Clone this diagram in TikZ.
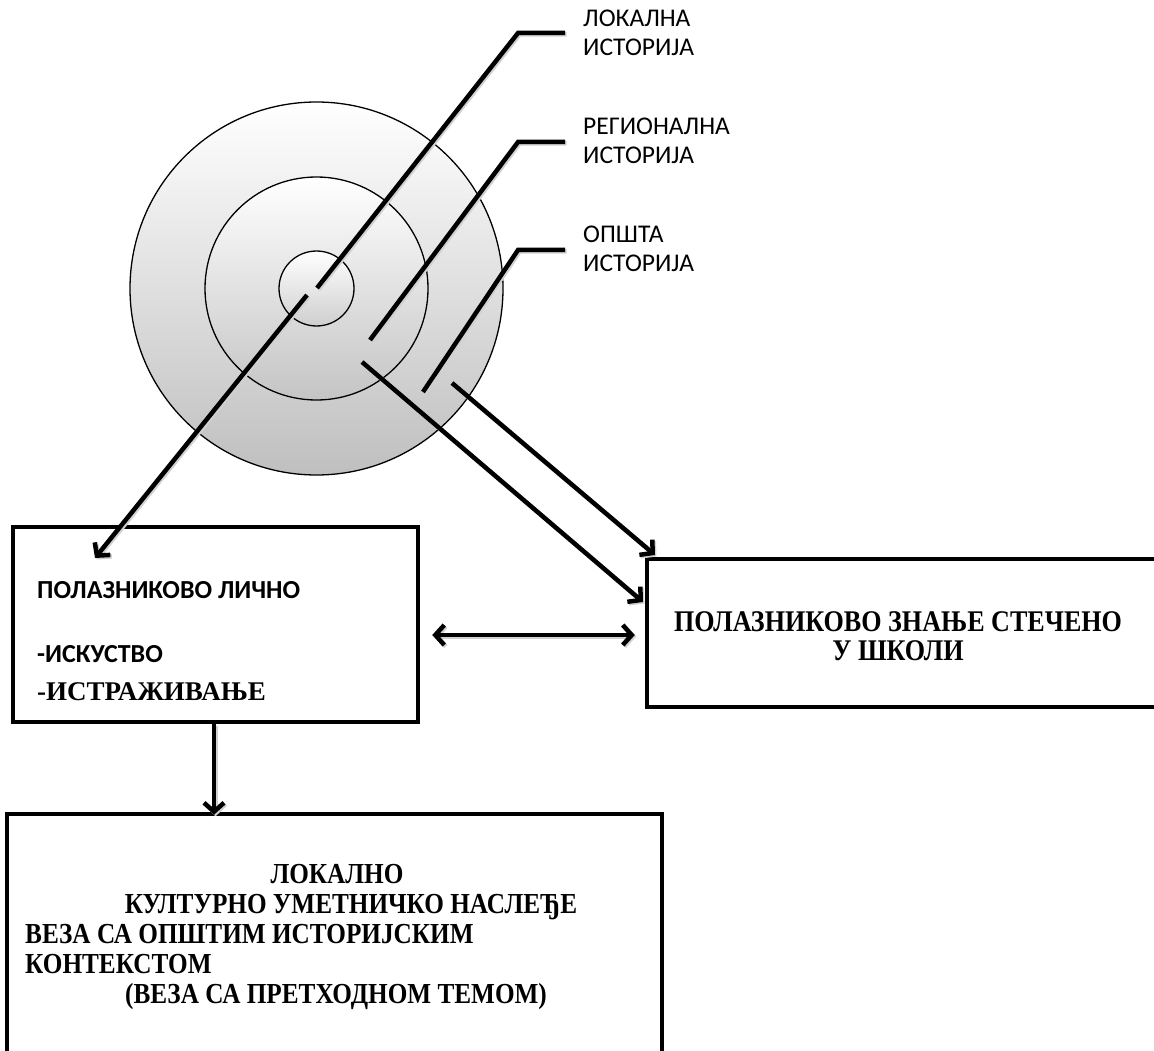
\documentclass[tikz,border=0pt]{standalone}
\usepackage{fontspec}
\setmainfont{Liberation Serif}
\newfontfamily\calfont{Carlito}
\newfontfamily\tnrcond[FakeStretch=0.87]{Liberation Serif}
\usetikzlibrary{arrows.meta}
\begin{document}
\begin{tikzpicture}[x=1pt,y=-1pt,
  ring/.style={circle, draw=black, line width=1.3pt, inner sep=0pt, shading=axis, top color=white},
  heavy/.style={line width=4.5pt, line cap=butt,
    preaction={draw=black!18, line width=4.5pt, transform canvas={xshift=1.5pt,yshift=-1.5pt}}},
  arr/.style={heavy, -{Straight Barb[length=9pt,width=20pt]}},
  darr/.style={heavy, {Straight Barb[length=9pt,width=20pt]}-{Straight Barb[length=9pt,width=20pt]}},
  box/.style={draw=black, line width=4.5pt, fill=white, inner sep=0pt},
  lab/.style={font=\calfont\fontsize{25.5}{29}\selectfont, anchor=base west, inner sep=0pt},
  btxt/.style={font=\bfseries\fontsize{27}{30}\selectfont, inner sep=0pt, anchor=base west},
  ctxt/.style={font=\calfont\bfseries\fontsize{26}{30}\selectfont, inner sep=0pt, anchor=base west},
  qtxt/.style={font=\tnrcond\bfseries\fontsize{30}{30}\selectfont, inner sep=0pt, anchor=base},
  rtxt/.style={font=\tnrcond\bfseries\fontsize{29}{30}\selectfont, inner sep=0pt, anchor=base},
]
\useasboundingbox (0,0) rectangle (1154,1051);
\clip (0,0) rectangle (1154,1051);

% concentric circles
\coordinate (c) at (316.5,288.5);
\node[ring, minimum size=373pt, middle color=black!9, bottom color=black!25] (outer) at (c) {};
\node[ring, minimum size=223pt, middle color=black!8, bottom color=black!23] (middle) at (c) {};
\node[ring, minimum size=75pt, middle color=black!7, bottom color=black!19] (inner) at (c) {};

% labels
\node[lab] (lloc1) at (583,27) {ЛОКАЛНА};
\node[lab] (lloc2) at (583,56) {ИСТОРИЈА};
\node[lab] (lreg1) at (583,135) {РЕГИОНАЛНА};
\node[lab] (lreg2) at (583,164) {ИСТОРИЈА};
\node[lab] (lgen1) at (583,243) {ОПШТА};
\node[lab] (lgen2) at (583,272) {ИСТОРИЈА};

% boxes
\node[box, minimum width=405pt, minimum height=195pt] (box1) at (215.5,624.5) {};
\node[box, minimum width=553pt, minimum height=148pt] (box2) at (923.5,633) {};
\node[box, minimum width=655pt, minimum height=290pt] (box3) at (334.5,959) {};

% box 1 text
\node[ctxt] (p1) at (37,598) {ПОЛАЗНИКОВО ЛИЧНО};
\node[ctxt] (p2) at (37,662) {-ИСКУСТВО};
\node[btxt] (p3) at (37,700) {-ИСТРАЖИВАЊЕ};

% box 2 text
\node[qtxt] (q1) at (898,631) {ПОЛАЗНИКОВО ЗНАЊЕ СТЕЧЕНО};
\node[qtxt] (q2) at (898,660) {У ШКОЛИ};

% box 3 text
\node[rtxt] (r1) at (337,883) {ЛОКАЛНО};
\node[rtxt] (r2) at (351,913) {КУЛТУРНО УМЕТНИЧКО НАСЛЕЂЕ};
\node[rtxt, anchor=base west] (r3) at (25,943) {ВЕЗА СА ОПШТИМ ИСТОРИЈСКИМ};
\node[rtxt, anchor=base west] (r4) at (25,973) {КОНТЕКСТОМ};
\node[rtxt] (r5) at (336,1003) {(ВЕЗА СА ПРЕТХОДНОМ ТЕМОМ)};

% leader lines
\coordinate (a1) at (565,33);  \coordinate (b1) at (518,33);  \coordinate (e1) at (317,288);
\coordinate (a2) at (565,142); \coordinate (b2) at (518,142); \coordinate (e2) at (370,340);
\coordinate (a3) at (565,250); \coordinate (b3) at (518,250); \coordinate (e3) at (423,392);
\draw[heavy] (a1) -- (b1) -- (e1);
\draw[heavy] (a2) -- (b2) -- (e2);
\draw[heavy] (a3) -- (b3) -- (e3);

% arrows
\coordinate (s1) at (307,295);  \coordinate (t1) at (95,558);
\coordinate (s2) at (362,362);  \coordinate (t2) at (643,602);
\coordinate (s3) at (452,383);  \coordinate (t3) at (655,555);
\draw[arr] (s1) -- (t1);
\draw[arr] (s2) -- (t2);
\draw[arr] (s3) -- (t3);
\draw[darr] ([xshift=12pt]box1.east |- 0,635) -- ([xshift=-10pt]box2.west |- 0,635);
\draw[arr] ([xshift=-1.5pt]box1.south) -- ([xshift=-1.5pt,yshift=-3pt]box1.south |- box3.north);
\end{tikzpicture}
\end{document}
